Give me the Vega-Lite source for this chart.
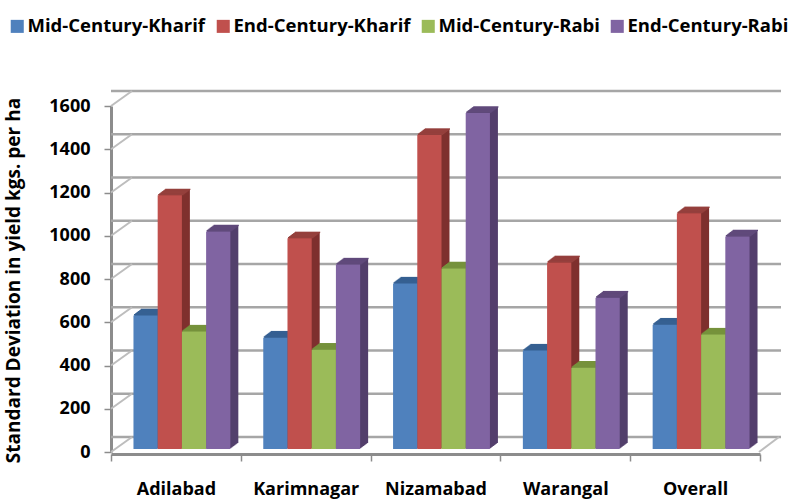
{"$schema":"https://vega.github.io/schema/vega-lite/v6.json","width":649,"height":346,"autosize":"none","padding":{"left":111,"top":106,"right":40,"bottom":47},"background":"white","config":{"view":{"stroke":null},"font":"Open Sans"},"data":{"values":[
{"region":"Adilabad","series":"Mid-Century-Kharif","value":617},{"region":"Adilabad","series":"End-Century-Kharif","value":1173},{"region":"Adilabad","series":"Mid-Century-Rabi","value":543},{"region":"Adilabad","series":"End-Century-Rabi","value":1006},
{"region":"Karimnagar","series":"Mid-Century-Kharif","value":515},{"region":"Karimnagar","series":"End-Century-Kharif","value":974},{"region":"Karimnagar","series":"Mid-Century-Rabi","value":459},{"region":"Karimnagar","series":"End-Century-Rabi","value":853},
{"region":"Nizamabad","series":"Mid-Century-Kharif","value":765},{"region":"Nizamabad","series":"End-Century-Kharif","value":1452},{"region":"Nizamabad","series":"Mid-Century-Rabi","value":835},{"region":"Nizamabad","series":"End-Century-Rabi","value":1554},
{"region":"Warangal","series":"Mid-Century-Kharif","value":455},{"region":"Warangal","series":"End-Century-Kharif","value":863},{"region":"Warangal","series":"Mid-Century-Rabi","value":376},{"region":"Warangal","series":"End-Century-Rabi","value":700},
{"region":"Overall","series":"Mid-Century-Kharif","value":575},{"region":"Overall","series":"End-Century-Kharif","value":1090},{"region":"Overall","series":"Mid-Century-Rabi","value":529},{"region":"Overall","series":"End-Century-Rabi","value":983}
]},
"resolve":{"scale":{"x":"independent"},"axis":{"x":"independent","y":"independent"}},
"layer":[
{"data":{"values":[{"tick":0,"back":69.4},{"tick":200,"back":269.4},{"tick":400,"back":469.4},{"tick":600,"back":669.4},{"tick":800,"back":869.4},{"tick":1000,"back":1069.4},{"tick":1200,"back":1269.4},{"tick":1400,"back":1469.4},{"tick":1600,"back":1669.4}]},
"layer":[
{"mark":{"type":"rule","color":"#a6a6a6","strokeWidth":2.5,"xOffset":21,"yOffset":-15},"encoding":{"y":{"field":"tick","type":"quantitative","scale":{"domain":[0,1600],"nice":false},"axis":null}}},
{"mark":{"type":"rule","color":"#bdbdbd","strokeWidth":2},"encoding":{"x":{"datum":0,"type":"quantitative","scale":{"domain":[0,649]},"axis":null},"x2":{"datum":21},"y":{"field":"tick","type":"quantitative","axis":null},"y2":{"field":"back"}}},
{"transform":[{"filter":"datum.tick===0"}],"mark":{"type":"rule","color":"#bdbdbd","strokeWidth":2},"encoding":{"x":{"datum":649,"type":"quantitative","axis":null},"x2":{"datum":669},"y":{"field":"tick","type":"quantitative","axis":null},"y2":{"field":"back"}}}
]},
{"resolve":{"scale":{"xOffset":"independent"}},"encoding":{"x":{"field":"region","type":"nominal","sort":null,"scale":{"paddingInner":0,"paddingOuter":0},"axis":{"orient":"bottom","title":null,"labelAngle":0,"labelFontSize":18,"labelFontWeight":"bold","labelColor":"#000","labelPadding":19,"domainColor":"#8c8c8c","domainWidth":3,"tickColor":"#8c8c8c","tickWidth":1.5,"tickSize":7,"tickBand":"extent","offset":2,"grid":false}},"y":{"field":"value","type":"quantitative","scale":{"domain":[0,1600],"nice":false},"axis":{"orient":"left","format":"d","title":"Standard Deviation in yield kgs. per ha","titleFontSize":19,"titleFontWeight":"bold","titleColor":"#000","titleX":-88,"titleY":174,"values":[0,200,400,600,800,1000,1200,1400,1600],"labelFontSize":18,"labelFontWeight":"bold","labelColor":"#000","labelPadding":14,"domainColor":"#8c8c8c","domainWidth":3,"tickColor":"#8c8c8c","tickWidth":1.5,"tickSize":7,"grid":false}}},
"layer":[
{"mark":{"type":"bar","yOffset":-9},"encoding":{"xOffset":{"field":"series","type":"nominal","sort":null,"scale":{"range":[14,143.8],"paddingOuter":0.68,"paddingInner":0}},"fill":{"field":"series","type":"nominal","sort":null,"legend":null,"scale":{"range":["#355f8f","#7f302e","#6c8a3c","#533f6c"]}}}},
{"mark":{"type":"bar","yOffset":-8.25},"encoding":{"xOffset":{"field":"series","type":"nominal","sort":null,"scale":{"range":[13,142.8],"paddingOuter":0.68,"paddingInner":0}},"fill":{"field":"series","type":"nominal","sort":null,"legend":null}}},
{"mark":{"type":"bar","yOffset":-7.5},"encoding":{"xOffset":{"field":"series","type":"nominal","sort":null,"scale":{"range":[12,141.8],"paddingOuter":0.68,"paddingInner":0}},"fill":{"field":"series","type":"nominal","sort":null,"legend":null}}},
{"mark":{"type":"bar","yOffset":-6.75},"encoding":{"xOffset":{"field":"series","type":"nominal","sort":null,"scale":{"range":[11,140.8],"paddingOuter":0.68,"paddingInner":0}},"fill":{"field":"series","type":"nominal","sort":null,"legend":null}}},
{"mark":{"type":"bar","yOffset":-6},"encoding":{"xOffset":{"field":"series","type":"nominal","sort":null,"scale":{"range":[10,139.8],"paddingOuter":0.68,"paddingInner":0}},"fill":{"field":"series","type":"nominal","sort":null,"legend":null}}},
{"mark":{"type":"bar","yOffset":-5.25},"encoding":{"xOffset":{"field":"series","type":"nominal","sort":null,"scale":{"range":[9,138.8],"paddingOuter":0.68,"paddingInner":0}},"fill":{"field":"series","type":"nominal","sort":null,"legend":null}}},
{"mark":{"type":"bar","yOffset":-4.5},"encoding":{"xOffset":{"field":"series","type":"nominal","sort":null,"scale":{"range":[8,137.8],"paddingOuter":0.68,"paddingInner":0}},"fill":{"field":"series","type":"nominal","sort":null,"legend":null}}},
{"mark":{"type":"bar","yOffset":-3.75},"encoding":{"xOffset":{"field":"series","type":"nominal","sort":null,"scale":{"range":[7,136.8],"paddingOuter":0.68,"paddingInner":0}},"fill":{"field":"series","type":"nominal","sort":null,"legend":null}}},
{"mark":{"type":"tick","size":24,"thickness":0.2,"fillOpacity":0,"strokeWidth":1.2,"yOffset":-9},"encoding":{"xOffset":{"field":"series","type":"nominal","sort":null,"scale":{"range":[14,143.8],"paddingOuter":0.68,"paddingInner":0}},"stroke":{"field":"series","type":"nominal","sort":null,"legend":null,"scale":{"range":["#366092","#95403d","#76923c","#604a7b"]}}}},
{"mark":{"type":"tick","size":24,"thickness":0.2,"fillOpacity":0,"strokeWidth":1.2,"yOffset":-8.25},"encoding":{"xOffset":{"field":"series","type":"nominal","sort":null,"scale":{"range":[13,142.8],"paddingOuter":0.68,"paddingInner":0}},"stroke":{"field":"series","type":"nominal","sort":null,"legend":null}}},
{"mark":{"type":"tick","size":24,"thickness":0.2,"fillOpacity":0,"strokeWidth":1.2,"yOffset":-7.5},"encoding":{"xOffset":{"field":"series","type":"nominal","sort":null,"scale":{"range":[12,141.8],"paddingOuter":0.68,"paddingInner":0}},"stroke":{"field":"series","type":"nominal","sort":null,"legend":null}}},
{"mark":{"type":"tick","size":24,"thickness":0.2,"fillOpacity":0,"strokeWidth":1.2,"yOffset":-6.75},"encoding":{"xOffset":{"field":"series","type":"nominal","sort":null,"scale":{"range":[11,140.8],"paddingOuter":0.68,"paddingInner":0}},"stroke":{"field":"series","type":"nominal","sort":null,"legend":null}}},
{"mark":{"type":"tick","size":24,"thickness":0.2,"fillOpacity":0,"strokeWidth":1.2,"yOffset":-6},"encoding":{"xOffset":{"field":"series","type":"nominal","sort":null,"scale":{"range":[10,139.8],"paddingOuter":0.68,"paddingInner":0}},"stroke":{"field":"series","type":"nominal","sort":null,"legend":null}}},
{"mark":{"type":"tick","size":24,"thickness":0.2,"fillOpacity":0,"strokeWidth":1.2,"yOffset":-5.25},"encoding":{"xOffset":{"field":"series","type":"nominal","sort":null,"scale":{"range":[9,138.8],"paddingOuter":0.68,"paddingInner":0}},"stroke":{"field":"series","type":"nominal","sort":null,"legend":null}}},
{"mark":{"type":"tick","size":24,"thickness":0.2,"fillOpacity":0,"strokeWidth":1.2,"yOffset":-4.5},"encoding":{"xOffset":{"field":"series","type":"nominal","sort":null,"scale":{"range":[8,137.8],"paddingOuter":0.68,"paddingInner":0}},"stroke":{"field":"series","type":"nominal","sort":null,"legend":null}}},
{"mark":{"type":"tick","size":24,"thickness":0.2,"fillOpacity":0,"strokeWidth":1.2,"yOffset":-3.75},"encoding":{"xOffset":{"field":"series","type":"nominal","sort":null,"scale":{"range":[7,136.8],"paddingOuter":0.68,"paddingInner":0}},"stroke":{"field":"series","type":"nominal","sort":null,"legend":null}}},
{"mark":{"type":"bar","yOffset":-3},"encoding":{"xOffset":{"field":"series","type":"nominal","sort":null,"scale":{"range":[6,135.8],"paddingOuter":0.68,"paddingInner":0}},"color":{"field":"series","type":"nominal","sort":null,"scale":{"range":["#4f81bd","#c0504d","#9bbb59","#8064a2"]},"legend":{"title":null,"orient":"none","legendX":-103,"legendY":-89,"direction":"horizontal","columns":4,"symbolType":"square","symbolSize":170,"symbolStrokeWidth":0,"symbolOpacity":1,"labelFontSize":18.5,"labelFontWeight":"bold","labelColor":"#000","labelLimit":300,"columnPadding":8,"labelOffset":1}}}}
]}
]}
